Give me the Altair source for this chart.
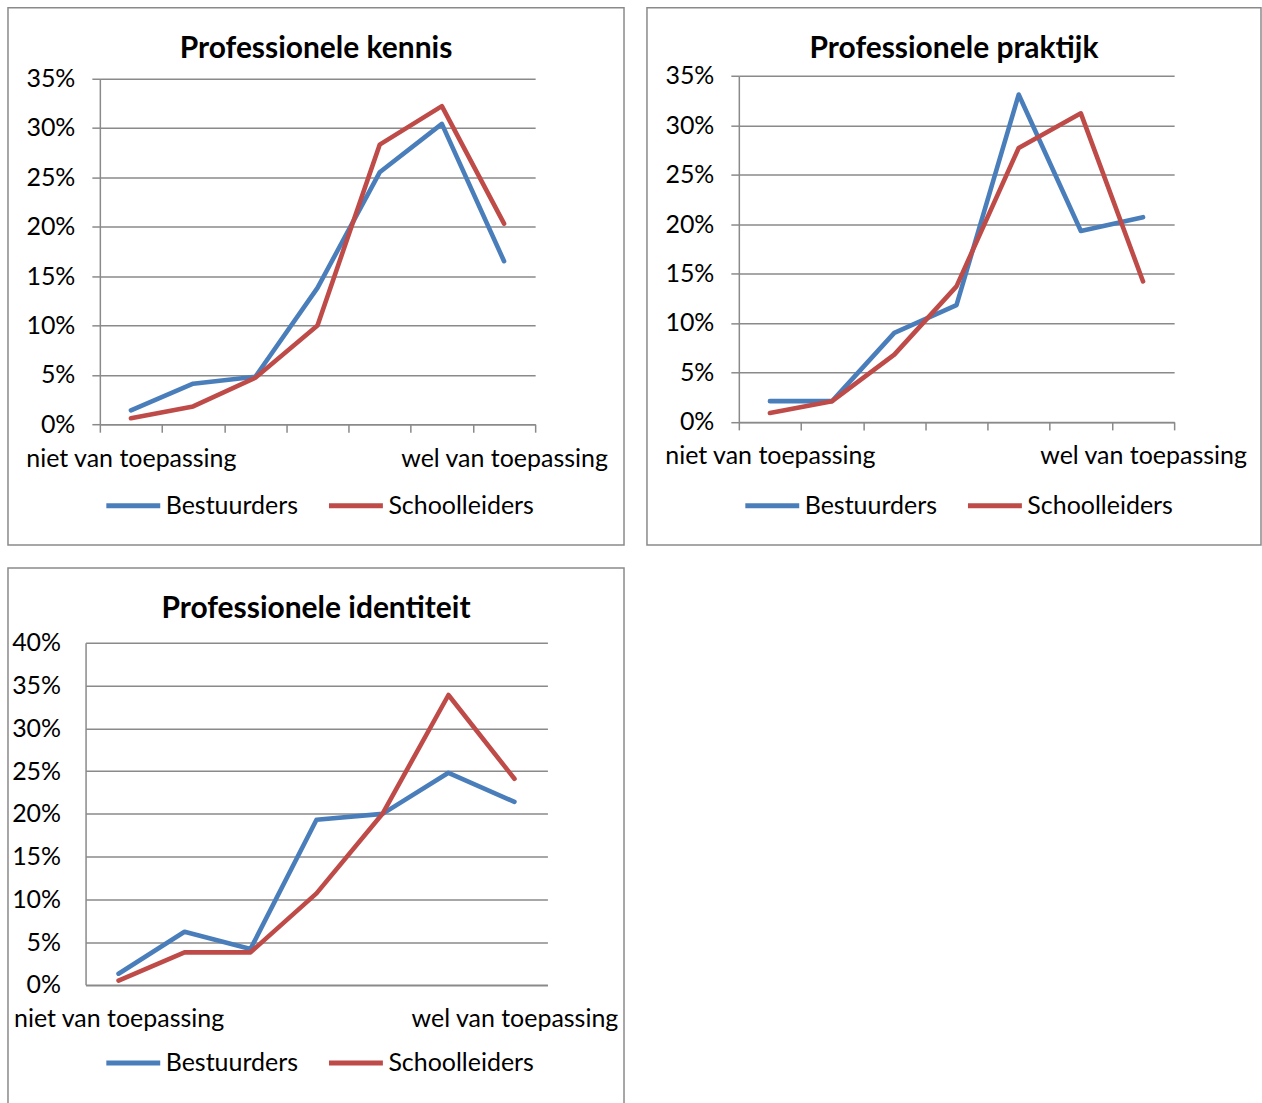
import altair as alt
import pandas as pd

# Answer scale: seven positions, only the two ends are labelled
positions = [1, 2, 3, 4, 5, 6, 7]
position_labels = ["niet van toepassing", "", "", "", "", "", "wel van toepassing"]

series_names = ["Bestuurders", "Schoolleiders"]
series_colors = ["#4a7ebb", "#be4b48"]

# Share of respondents per answer position (%)
kennis_bestuurders = [1.4, 4.1, 4.8, 13.8, 25.5, 30.4, 16.5]
kennis_schoolleiders = [0.6, 1.8, 4.7, 10.0, 28.3, 32.2, 20.3]

praktijk_bestuurders = [2.1, 2.1, 9.0, 11.8, 33.1, 19.3, 20.7]
praktijk_schoolleiders = [0.9, 2.1, 6.8, 13.7, 27.7, 31.2, 14.2]

identiteit_bestuurders = [1.3, 6.2, 4.2, 19.3, 20.0, 24.8, 21.4]
identiteit_schoolleiders = [0.5, 3.8, 3.8, 10.7, 20.0, 33.9, 24.1]

FONT = "Lato"
GREY = "#8a8a8a"
LABEL_SIZE = 25

label_expr = "[" + ",".join(f"'{t}'" for t in position_labels) + "][datum.value - 1]"


def frame(bestuurders, schoolleiders):
    rows = []
    for name, vals in zip(series_names, (bestuurders, schoolleiders)):
        for p, v in zip(positions, vals):
            rows.append({"positie": p, "groep": name, "aandeel": v / 100})
    return pd.DataFrame(rows)


def panel(title, bestuurders, schoolleiders, box_w, box_h, plot_x, plot_y,
          y_max, ticks=True, y_label_pad=17, x_label_pad=14, legend_y=469):
    x0, x1 = plot_x
    y_top, y_bottom = plot_y
    y_values = [i / 100 for i in range(0, int(round(y_max * 100)) + 1, 5)]
    return (
        alt.Chart(frame(bestuurders, schoolleiders))
        .mark_line(strokeWidth=4.6, strokeJoin="round", strokeCap="round")
        .encode(
            x=alt.X(
                "positie:O",
                scale=alt.Scale(type="band", paddingInner=0, paddingOuter=0,
                                range=[x0, x1]),
                axis=alt.Axis(
                    title=None, orient="bottom", offset=y_bottom - box_h,
                    tickBand="extent", ticks=ticks, tickSize=8,
                    labelExpr=label_expr, labelOverlap=False, labelBound=False,
                    labelFlush=False, labelAngle=0, labelPadding=x_label_pad,
                    labelBaseline="top", labelLimit=400, grid=False,
                ),
            ),
            y=alt.Y(
                "aandeel:Q",
                scale=alt.Scale(domain=[0, y_max], range=[y_bottom, y_top],
                                nice=False, zero=True),
                axis=alt.Axis(
                    title=None, orient="left", offset=-x0, values=y_values,
                    format=".0%", grid=True, ticks=ticks, tickSize=8,
                    labelPadding=y_label_pad,
                ),
            ),
            color=alt.Color(
                "groep:N",
                scale=alt.Scale(domain=series_names, range=series_colors),
                legend=alt.Legend(
                    title=None, orient="none", legendX=96, legendY=legend_y,
                    direction="horizontal", symbolType="stroke",
                    symbolSize=2916, symbolStrokeWidth=5, columnPadding=20,
                    labelOffset=3, padding=0, labelLimit=400,
                ),
            ),
        )
        .properties(
            width=box_w, height=box_h,
            title=alt.TitleParams(title, offset=-56, anchor="middle", frame="group"),
        )
    )


kennis = panel("Professionele kennis", kennis_bestuurders, kennis_schoolleiders,
               617, 538, (92, 528), (70.7, 417), 0.35)
praktijk = panel("Professionele praktijk", praktijk_bestuurders, praktijk_schoolleiders,
                 615, 538, (92, 528), (68, 414.7), 0.35)
identiteit = panel("Professionele identiteit", identiteit_bestuurders, identiteit_schoolleiders,
                   617, 539, (77.7, 540.3), (75, 417.5), 0.40, ticks=False,
                   y_label_pad=25, x_label_pad=22, legend_y=466)

top_row = (
    alt.hconcat(kennis, praktijk, spacing=21)
    .resolve_scale(color="independent")
    .resolve_legend(color="independent")
)

chart = (
    alt.vconcat(top_row, identiteit, spacing=21)
    .resolve_scale(color="independent")
    .resolve_legend(color="independent")
    .properties(padding={"left": 7, "top": 6, "right": 0, "bottom": 0})
    .configure(background="white", font=FONT)
    .configure_view(stroke=GREY, strokeWidth=1.5)
    .configure_axis(
        domainColor=GREY, domainWidth=1.5, tickColor=GREY, tickWidth=1.5,
        gridColor=GREY, gridWidth=1.5, labelFont=FONT, labelFontSize=LABEL_SIZE,
        labelColor="#000000",
    )
    .configure_legend(labelFont=FONT, labelFontSize=LABEL_SIZE, labelColor="#000000")
    .configure_title(font=FONT, fontSize=30, fontWeight="bold", color="#000000")
)

chart.save("out.html", embed_options={"renderer": "svg", "actions": False})
